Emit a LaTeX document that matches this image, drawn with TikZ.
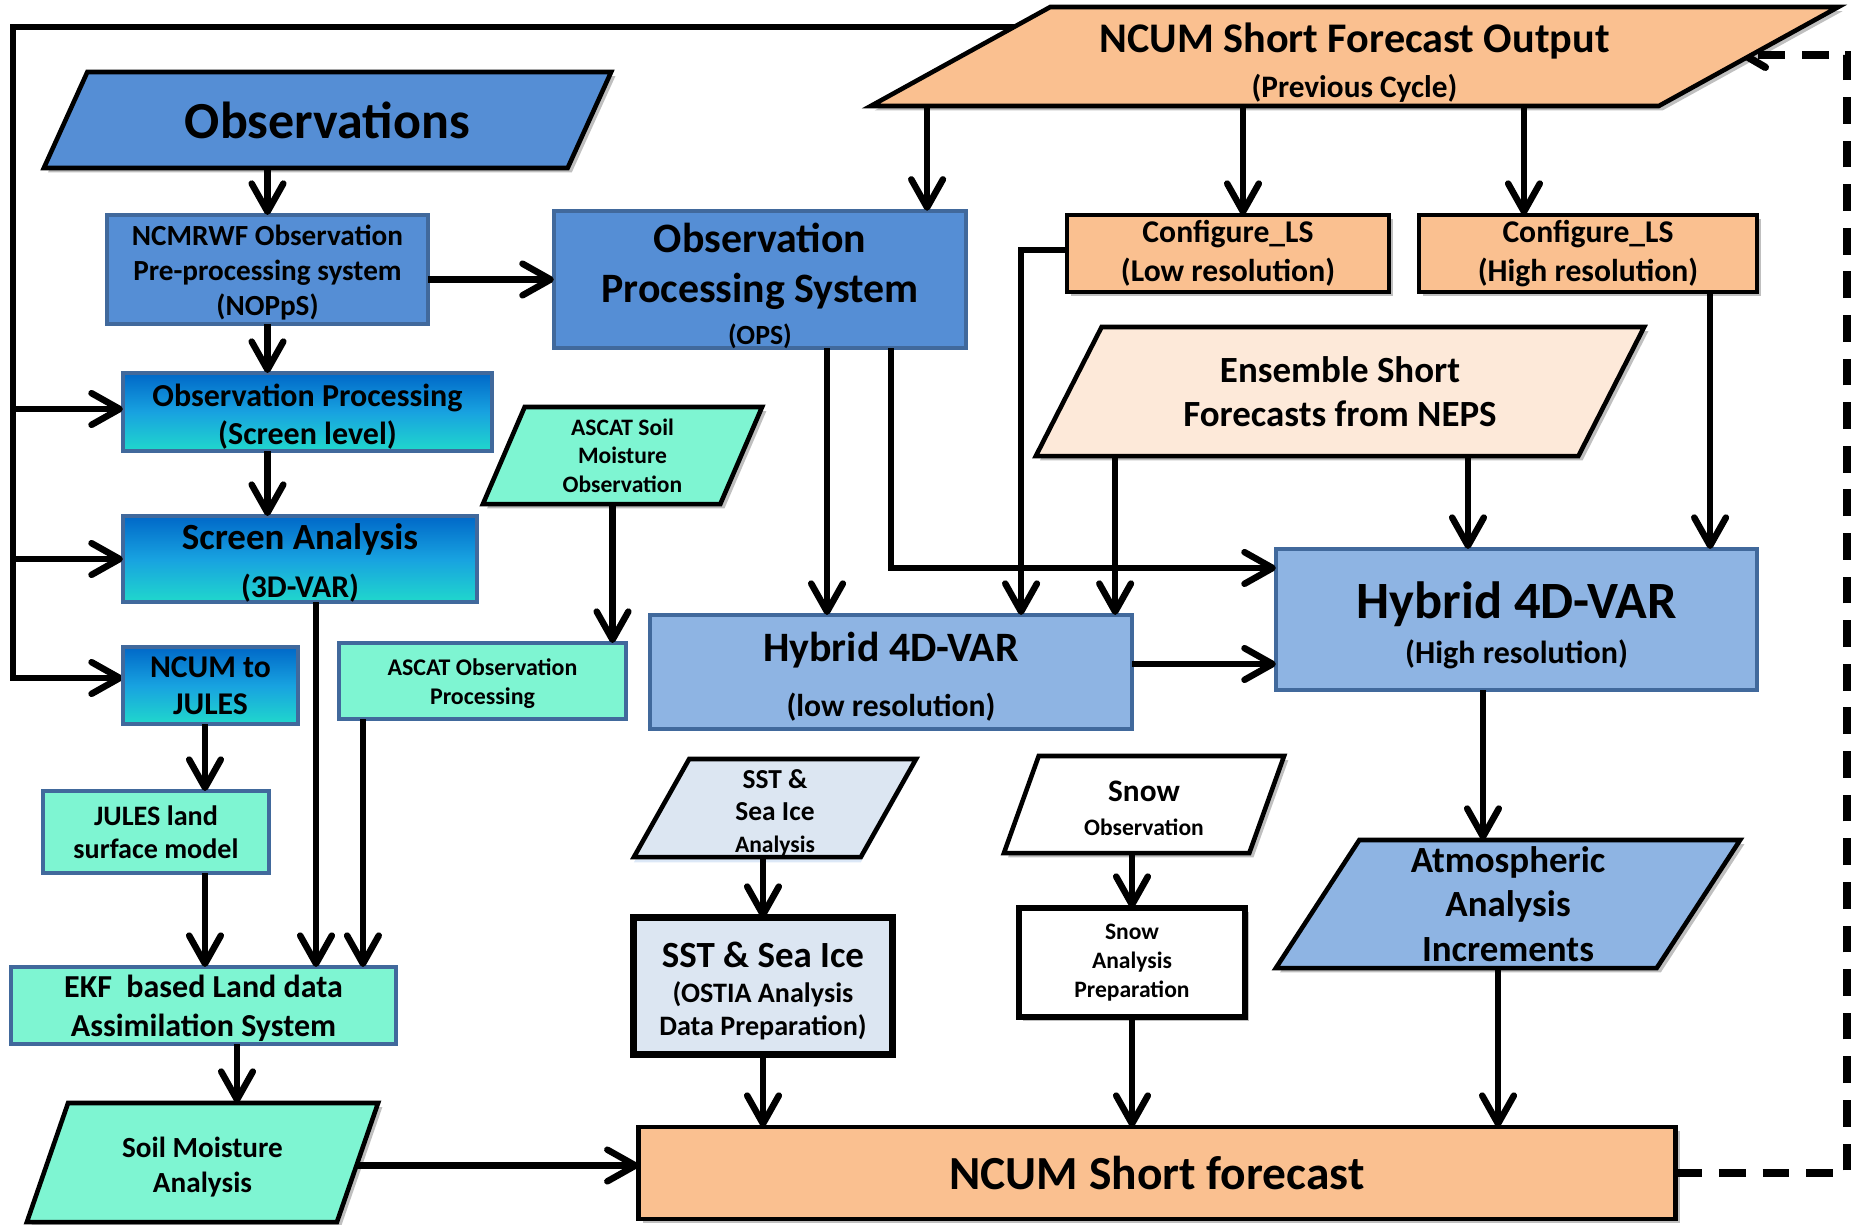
\documentclass[tikz,border=0pt]{standalone}
\usepackage{fontspec}
\setmainfont{Carlito}
\usetikzlibrary{arrows.meta,shapes.geometric,backgrounds,shadows}
\definecolor{obsblue}{HTML}{558ED5}
\definecolor{bordblue}{HTML}{41699C}
\definecolor{hybblue}{HTML}{8EB4E3}
\definecolor{mint}{HTML}{7EF5D2}
\definecolor{peach}{HTML}{FAC090}
\definecolor{lpeach}{HTML}{FDE9D9}
\definecolor{sstcol}{HTML}{DCE6F2}
\definecolor{gtop}{HTML}{0068C8}
\definecolor{gmid}{HTML}{18A2E0}
\definecolor{gbot}{HTML}{20D8CC}
\newcommand\fsz[2]{\fontsize{#1}{#2}\selectfont}
\begin{document}
\begin{tikzpicture}[x=0.01cm,y=-0.01cm,
  every node/.style={inner sep=0pt, outer sep=0pt, align=center},
  bbox/.style={rectangle, draw=bordblue, line width=1.1pt},
  kbox/.style={rectangle, draw=black, line width=1.3pt},
  gbox/.style={rectangle, draw=bordblue, line width=1.1pt, top color=gtop, bottom color=gbot, middle color=gmid},
  pgram/.style={trapezium, trapezium stretches body, draw=black, line width=1.3pt},
  shad/.style={drop shadow={shadow xshift=1.2pt, shadow yshift=-1.2pt, opacity=0.25, fill=black}},
  conn/.style={line width=1.85pt, -{Straight Barb[length=8pt,width=9pt,round]}},
  dconn/.style={line width=2.1pt, dash pattern=on 7.6pt off 4.8pt, -{Straight Barb[length=6pt,width=7pt,round]}},
]
\path[use as bounding box] (0,0) rectangle (1858,1224);

% ---------- parallelograms ----------
\node[pgram, fill=obsblue, shad, trapezium left angle=40.35, trapezium right angle=139.65,
      minimum width=5.67cm, minimum height=0.96cm, font=\bfseries\fsz{14.8}{17}] (obs) at (327.5,120)
  {Observations};
\node[pgram, fill=peach, shad, trapezium left angle=27.16, trapezium right angle=152.84,
      minimum width=9.67cm, minimum height=0.99cm, font=\bfseries\fsz{12}{12.8}] (ncout) at (1354.5,56.5)
  {\rule{0pt}{12pt}NCUM Short Forecast Output\\{\fsz{8.9}{10}(Previous Cycle)}};
\node[pgram, fill=mint, shad, trapezium left angle=60.45, trapezium right angle=119.55,
      minimum width=2.79cm, minimum height=0.97cm, font=\bfseries\fsz{6.7}{8.1}] (ascs) at (622.5,455.5)
  {ASCAT Soil\\Moisture\\Observation};
\node[pgram, fill=lpeach, shad, trapezium left angle=46.83, trapezium right angle=133.17,
      minimum width=6.08cm, minimum height=1.29cm, font=\bfseries\fsz{10.5}{12.5}] (ens) at (1340,391.5)
  {Ensemble Short\\Forecasts from NEPS};
\node[pgram, fill=mint, shad, trapezium left angle=59.53, trapezium right angle=120.47,
      minimum width=3.51cm, minimum height=1.19cm, font=\bfseries\fsz{8.3}{10.2}] (sm) at (202.5,1162.5)
  {\rule{0pt}{8.4pt}Soil Moisture\\Analysis};
\node[pgram, fill=sstcol, drop shadow={shadow xshift=0pt, shadow yshift=-1.5pt, opacity=0.35, fill=cyan!60!blue!40},
      trapezium left angle=60.03, trapezium right angle=119.97,
      minimum width=2.82cm, minimum height=0.98cm, font=\bfseries\fsz{7.8}{9.1}] (sstp) at (775,808)
  {\rule{0pt}{8pt}SST \&\\Sea Ice\\{\fsz{6.7}{8}Analysis}};
\node[pgram, fill=white, shad, trapezium left angle=60.45, trapezium right angle=119.55,
      minimum width=2.80cm, minimum height=0.97cm, font=\bfseries\fsz{8.9}{9.4}] (snowo) at (1144,804.5)
  {\rule{0pt}{8pt}Snow\\{\fsz{6.7}{8}Observation}};
\node[pgram, fill=hybblue, shad, trapezium left angle=54.15, trapezium right angle=125.85,
      minimum width=4.64cm, minimum height=1.28cm, font=\bfseries\fsz{10.5}{12.7}] (atm) at (1508,904)
  {Atmospheric\\Analysis\\Increments};

% ---------- rectangles ----------
\node[bbox, fill=obsblue, minimum width=3.21cm, minimum height=1.09cm, font=\bfseries\fsz{8.3}{10}] (ncm) at (267.5,269.5)
  {\rule{0pt}{7.4pt}NCMRWF Observation\\Pre-processing system\\(NOPpS)};
\node[bbox, fill=obsblue, minimum width=4.12cm, minimum height=1.29cm, font=\bfseries\fsz{11.9}{14.2}] (ops) at (760,279.5)
  {\rule{0pt}{12pt}Observation\\Processing System\\[-2.5pt]{\fsz{7.9}{9}(OPS)}};
\node[gbox, minimum width=3.69cm, minimum height=0.78cm, font=\bfseries\fsz{9.1}{11}] (obsp) at (307.5,412)
  {\rule{0pt}{9pt}Observation Processing\\(Screen level)};
\node[gbox, minimum width=3.54cm, minimum height=0.82cm, font=\bfseries\fsz{10.5}{13.6}] (scr) at (300,559)
  {\rule{0pt}{9.5pt}Screen Analysis\\{\fsz{9}{11}(3D-VAR)}};
\node[gbox, minimum width=1.75cm, minimum height=0.77cm, font=\bfseries\fsz{9}{10.6}] (n2j) at (210.5,685.5)
  {NCUM to\\JULES};
\node[bbox, fill=mint, minimum width=2.87cm, minimum height=0.76cm, font=\bfseries\fsz{6.8}{8.3}] (ascp) at (482.5,681)
  {\rule{0pt}{6.4pt}ASCAT Observation\\Processing};
\node[bbox, fill=mint, minimum width=2.26cm, minimum height=0.82cm, font=\bfseries\fsz{8}{9.4}] (jules) at (156,832)
  {JULES land\\surface model};
\node[bbox, fill=mint, minimum width=3.85cm, minimum height=0.77cm, font=\bfseries\fsz{9.1}{11}] (ekf) at (203.5,1005.5)
  {\rule{0pt}{8pt}EKF\ \ based Land data\\Assimilation System};
\node[kbox, fill=peach, shad, minimum width=3.22cm, minimum height=0.77cm, font=\bfseries\fsz{9}{11}] (cfl) at (1228,253.5)
  {Configure\_LS\\(Low resolution)};
\node[kbox, fill=peach, shad, minimum width=3.38cm, minimum height=0.77cm, font=\bfseries\fsz{9}{11}] (cfh) at (1588,253.5)
  {Configure\_LS\\(High resolution)};
\node[bbox, fill=hybblue, minimum width=4.81cm, minimum height=1.41cm, font=\bfseries\fsz{14.9}{14.8}] (hyh) at (1516.5,619.5)
  {\rule{0pt}{13.5pt}Hybrid 4D-VAR\\[-2pt]{\fsz{9.1}{11}(High resolution)}};
\node[bbox, fill=hybblue, minimum width=4.82cm, minimum height=1.14cm, font=\bfseries\fsz{11.9}{15.6}] (hyl) at (891,672)
  {\rule{0pt}{11.2pt}Hybrid 4D-VAR\\{\fsz{9}{11}(low resolution)}};
\node[kbox, fill=sstcol, line width=2pt, shad, minimum width=2.58cm, minimum height=1.36cm, font=\bfseries\fsz{10.5}{11.4}] (sstb) at (763,986)
  {\rule{0pt}{10.1pt}SST \& Sea Ice\\[-1.4pt]{\fsz{8}{9}(OSTIA Analysis}\\[-2pt]{\fsz{8}{9}Data Preparation)}};
\node[kbox, fill=white, line width=1.8pt, shad, minimum width=2.26cm, minimum height=1.09cm, font=\bfseries\fsz{6.7}{8.3}] (snowp) at (1132,962.5)
  {Snow\\Analysis\\Preparation};
\node[kbox, fill=peach, shad, minimum width=10.36cm, minimum height=0.92cm, font=\bfseries\fsz{13.5}{15}] (ncf) at (1157,1173)
  {NCUM Short forecast};

% ---------- loop on the left ----------
\coordinate (lt) at (13,27);
\begin{scope}[on background layer]
  \draw[conn] (lt -| ncout.center) -- (lt) |- ([yshift=0.075cm]n2j.west);
\end{scope}
\draw[conn] ([yshift=0.03cm]lt |- obsp.west) -- ([yshift=0.03cm]obsp.west);
\draw[conn] (lt |- scr.west) -- (scr.west);

% ---------- left column ----------
\draw[conn] (ncm.north |- obs.south) -- (ncm.north);
\draw[conn] (ncm.east |- ops.west) -- (ops.west);
\draw[conn] (ncm.south) -- (ncm.south |- obsp.north);
\draw[conn] (ncm.south |- obsp.south) -- (ncm.south |- scr.north);
\draw[conn] ([xshift=0.16cm]scr.south) -- ([xshift=0.16cm]scr.south |- ekf.north);
\draw[conn] ([xshift=-0.1cm]ascs.south) -- ([xshift=-0.1cm]ascs.south |- ascp.north);
\draw[conn] ([xshift=-1.195cm]ascp.south) -- ([xshift=-1.195cm]ascp.south |- ekf.north);
\draw[conn] ([xshift=-0.055cm]n2j.south) -- ([xshift=-0.055cm]n2j.south |- jules.north);
\draw[conn] ([xshift=-0.055cm]n2j.south |- jules.south) -- ([xshift=-0.055cm]n2j.south |- ekf.north);
\draw[conn] ([xshift=0.335cm]ekf.south) -- ([xshift=0.335cm]ekf.south |- sm.north);
\draw[conn] ([yshift=-0.03cm]sm.east) -- ([yshift=-0.03cm]sm.east -| ncf.west);

% ---------- upper right ----------
\draw[conn] ([xshift=1.67cm]ops.north |- ncout.south) -- ([xshift=1.67cm]ops.north);
\draw[conn] ([xshift=0.15cm]cfl.north |- ncout.south) -- ([xshift=0.15cm]cfl.north);
\draw[conn] ([xshift=-0.64cm]cfh.north |- ncout.south) -- ([xshift=-0.64cm]cfh.north);
\draw[conn] ([yshift=0.035cm]cfl.west) -| ([xshift=1.3cm]hyl.north);
\draw[conn] ([xshift=2.24cm]hyl.north |- ens.south) -- ([xshift=2.24cm]hyl.north);
\draw[conn] ([xshift=-0.485cm]hyh.north |- ens.south) -- ([xshift=-0.485cm]hyh.north);
\draw[conn] ([xshift=1.22cm]cfh.south) -- ([xshift=1.22cm]cfh.south |- hyh.north);
\draw[conn] ([xshift=0.67cm]ops.south) -- ([xshift=0.67cm]ops.south |- hyl.north);
\draw[conn] ([xshift=1.31cm]ops.south) |- ([yshift=0.515cm]hyh.west);
\draw[conn] ([yshift=0.08cm]hyl.east) -- ([yshift=0.08cm]hyl.east -| hyh.west);

% ---------- lower right ----------
\draw[conn] ([xshift=-0.335cm]hyh.south) -- ([xshift=-0.335cm]hyh.south |- atm.north);
\draw[conn] ([xshift=-0.1cm]atm.south) -- ([xshift=-0.1cm]atm.south |- ncf.north);
\draw[conn] (sstb.north |- sstp.south) -- (sstb.north);
\draw[conn] (sstb.south) -- (sstb.south |- ncf.north);
\draw[conn] (snowp.north |- snowo.south) -- (snowp.north);
\draw[conn] (snowp.south) -- (snowp.south |- ncf.north);

% ---------- feedback (dashed), its tip tucked under the output box ----------
\coordinate (dtop) at (1847,55);
\begin{scope}[on background layer]
  \draw[dconn] (ncf.east) -| (dtop) -- ([xshift=-0.08cm]dtop -| ncout.east);
\end{scope}
\end{tikzpicture}
\end{document}
